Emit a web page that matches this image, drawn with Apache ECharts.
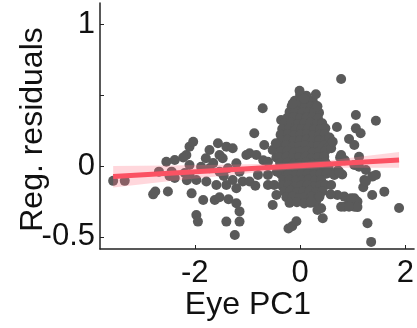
<!DOCTYPE html>
<html><head><meta charset="utf-8">
<script src="https://cdn.jsdelivr.net/npm/echarts@6/dist/echarts.min.js"></script>
<style>html,body{margin:0;padding:0;background:#fff}#c{width:417px;height:328px}</style>
</head><body><div id="c"></div>
<script>
// tick values / labels
const xTicks = [-2, 0, 2];
const yTicks = [-0.5, 0, 0.5, 1];
const yTickLabels = [-0.5, 0, 1];
const xName = 'Eye PC1';
const yName = 'Reg. residuals';

// scatter points [Eye PC1, residual]
const leftPoints = [
  [-3.55,-0.105],[-3.33,-0.105],[-2.79,-0.2],[-2.75,-0.18],[-2.51,-0.18],
  [-2.68,-0.04],[-2.54,0.03],[-2.38,0.042],[-2.44,-0.04],[-2.48,-0.07],[-2.38,-0.085],
  [-2.16,0.077],[-2.10,0.136],[-2.03,0.171],[-2.22,0.06],[-2.10,0.007],[-2.10,-0.063],[-2.19,-0.05],[-2.06,-0.193],[-2.15,-0.1],
  [-1.97,-0.345],[-1.94,-0.392],[-1.84,-0.24],[-1.62,-0.24],
  [-1.56,0.16],[-1.40,0.136],[-1.28,0.125],[-1.72,0.113],[-1.79,0.054],[-1.53,0.077],[-1.47,0.054],
  [-1.88,-0.005],[-1.72,-0.016],[-1.53,-0.04],[-1.37,-0.016],[-1.21,0.019],[-1.15,-0.04],[-1.02,0.077],[-1.09,-0.11],
  [-1.97,-0.099],[-1.78,-0.11],[-1.59,-0.134],[-1.40,-0.134],[-1.28,-0.099],[-1.21,-0.157],
  [-1.53,-0.22],[-1.36,-0.235],[-1.21,-0.263],[-1.15,-0.32],
  [-1.40,-0.392],[-1.15,-0.392],[-1.24,-0.486],[-1.65,0.02],[-1.45,-0.07],
  [-0.96,0.09],[-0.83,0.077],[-0.71,0.406],[-0.87,0.23],[-0.68,0.148],[-0.52,0.113],[-0.36,0.324],[-0.45,0.06],
  [-0.96,-0.11],[-0.80,-0.063],[-0.61,-0.063],[-0.61,-0.134],[-0.49,-0.134],[-0.45,-0.204],[-0.52,-0.275],
  [-0.85,-0.14],[-0.70,0.04],[-0.61,0.03],[-0.22,-0.44],[-0.15,-0.425],[-0.07,-0.39]
];
const centerPoints = [
  [0.00,0.50],[0.12,0.495],
  [-0.10,0.46],[0.02,0.465],[0.15,0.455],[0.24,0.46],
  [-0.16,0.42],[-0.04,0.425],[0.09,0.415],[0.21,0.42],[0.30,0.425],
  [-0.20,0.38],[-0.08,0.385],[0.04,0.375],[0.16,0.38],[0.27,0.385],[0.36,0.375],
  [-0.24,0.34],[-0.12,0.345],[0.00,0.335],[0.12,0.34],[0.24,0.345],[0.34,0.335],
  [-0.30,0.30],[-0.16,0.305],[-0.04,0.295],[0.08,0.30],[0.20,0.305],[0.32,0.295],[0.42,0.30],
  [-0.34,0.26],[-0.21,0.265],[-0.09,0.255],[0.03,0.26],[0.15,0.265],[0.27,0.255],[0.39,0.26],[0.48,0.265],
  [-0.37,0.22],[-0.23,0.225],[-0.11,0.215],[0.01,0.22],[0.13,0.225],[0.25,0.215],[0.37,0.22],[0.47,0.225],
  [-0.36,0.18],[-0.24,0.185],[-0.12,0.175],[0.00,0.18],[0.12,0.185],[0.24,0.175],[0.36,0.18],[0.48,0.185],
  [-0.40,0.14],[-0.26,0.145],[-0.14,0.135],[-0.02,0.14],[0.10,0.145],[0.22,0.135],[0.34,0.14],[0.46,0.145],[0.54,0.135],
  [-0.36,0.10],[-0.24,0.105],[-0.12,0.095],[0.00,0.10],[0.12,0.105],[0.24,0.095],[0.36,0.10],[0.48,0.105],
  [-0.40,0.06],[-0.26,0.065],[-0.14,0.055],[-0.02,0.06],[0.10,0.065],[0.22,0.055],[0.34,0.06],[0.46,0.065],
  [-0.38,0.02],[-0.24,0.025],[-0.12,0.015],[0.00,0.02],[0.12,0.025],[0.24,0.015],[0.36,0.02],[0.48,0.025],
  [-0.40,-0.02],[-0.26,-0.015],[-0.14,-0.025],[-0.02,-0.02],[0.10,-0.015],[0.22,-0.025],[0.34,-0.02],[0.46,-0.015],
  [-0.36,-0.06],[-0.22,-0.055],[-0.10,-0.065],[0.02,-0.06],[0.14,-0.055],[0.26,-0.065],[0.38,-0.06],[0.50,-0.055],
  [-0.32,-0.10],[-0.20,-0.095],[-0.08,-0.105],[0.04,-0.10],[0.16,-0.095],[0.28,-0.105],[0.40,-0.10],
  [-0.34,-0.14],[-0.22,-0.135],[-0.10,-0.145],[0.02,-0.14],[0.14,-0.135],[0.26,-0.145],[0.38,-0.14],[0.48,-0.135],
  [-0.30,-0.18],[-0.18,-0.175],[-0.06,-0.185],[0.06,-0.18],[0.18,-0.175],[0.30,-0.185],[0.42,-0.18],
  [-0.26,-0.22],[-0.14,-0.215],[-0.02,-0.225],[0.10,-0.22],[0.22,-0.215],[0.34,-0.225],
  [-0.20,-0.26],[-0.06,-0.255],[0.08,-0.265],[0.20,-0.26],[0.30,-0.255],
  [0.56,0.20],[0.54,0.00],[-0.46,0.16],[-0.44,-0.04]
];
const rightPoints = [
  [0.78,0.613],[-0.01,0.53],[0.30,0.505],[-0.14,0.44],[0.08,0.475],[0.33,0.42],[0.70,0.275],[1.06,0.359],
  [1.44,0.319],[1.06,0.265],[1.15,0.23],[0.93,0.19],[1.03,0.148],[1.12,0.065],[1.03,0.007],[1.25,-0.028],
  [1.44,-0.063],[1.22,-0.099],[1.37,-0.204],[1.60,-0.181],[0.84,-0.216],[0.93,-0.24],[1.03,-0.228],[1.09,-0.251],
  [0.84,-0.287],[1.03,-0.287],[1.88,-0.296],[1.28,-0.404],[1.35,-0.535],[0.71,-0.204],[0.78,-0.287],[0.43,-0.368],
  [0.40,-0.298],[0.21,-0.25],[0.76,0.06],[0.85,0.04],[0.72,-0.03],[0.80,-0.06],[1.20,-0.15],[0.59,0.125],
  [0.78,0.077],[0.55,-0.028],[0.65,-0.063],[0.59,-0.134],[1.12,-0.005],[1.37,-0.075],[1.25,-0.11],[0.37,-0.216],
  [0.33,-0.31],[0.58,-0.2],[0.97,-0.228],[1.09,-0.29],[0.93,-0.287],[0.74,-0.04],[0.62,0.17]
];

// regression fit and confidence band
const fitX = [-3.55, 1.88];
const fitY = [-0.075, 0.042];
const bandX = [-3.55, -2.5, -1.5, -0.5, 0.5, 1.88];
const bandLower = [-0.152, -0.107, -0.071, -0.034, -0.013, -0.012];
const bandUpper = [0.0, 0.003, 0.009, 0.016, 0.037, 0.098];

const FONT = 'Liberation Sans, Arial, Helvetica, sans-serif';
const chart = echarts.init(document.getElementById('c'), null, {renderer: 'canvas'});

const allPoints = leftPoints.concat(centerPoints, rightPoints);
const bandPoly = bandX.map((x, i) => [x, bandUpper[i]]).concat(
  bandX.map((x, i) => [x, bandLower[i]]).reverse());

chart.setOption({
  animation: false,
  grid: {left: 100, top: 3, width: 315, height: 246, containLabel: false},
  xAxis: {
    type: 'value', min: -3.8, max: 2.165,
    axisLine: {show: true, onZero: false, lineStyle: {color: '#222', width: 1.5}},
    axisTick: {show: true, inside: true, length: 4, customValues: xTicks, lineStyle: {color: '#222', width: 1}},
    axisLabel: {customValues: xTicks, margin: 9, fontSize: 31, color: '#111', fontFamily: FONT,
      formatter: v => String(v)},
    splitLine: {show: false}
  },
  yAxis: {
    type: 'value', min: -0.585, max: 1.148,
    axisLine: {show: true, onZero: false, lineStyle: {color: '#222', width: 1.5}},
    axisTick: {show: true, inside: true, length: 4, customValues: yTicks, lineStyle: {color: '#222', width: 1}},
    axisLabel: {customValues: yTickLabels, margin: 5, fontSize: 31, color: '#111', fontFamily: FONT,
      formatter: v => String(v)},
    splitLine: {show: false}
  },
  graphic: [
    {type: 'text', x: 248, y: 305, style: {text: xName, fontSize: 32, fontFamily: FONT, fill: '#111',
      textAlign: 'center', textVerticalAlign: 'middle'}},
    {type: 'text', x: 33.5, y: 129.5, rotation: Math.PI / 2, style: {text: yName, fontSize: 32, fontFamily: FONT,
      fill: '#111', textAlign: 'center', textVerticalAlign: 'middle'}}
  ],
  series: [
    {type: 'scatter', data: allPoints, symbolSize: 10, itemStyle: {color: '#5a5a5a', opacity: 1}, z: 2},
    {type: 'custom', z: 3, data: [0],
      renderItem: (params, api) => ({
        type: 'polygon',
        shape: {points: bandPoly.map(p => api.coord(p))},
        style: {fill: 'rgba(255,110,130,0.28)'}
      })},
    {type: 'line', data: fitX.map((x, i) => [x, fitY[i]]), symbol: 'none', z: 4,
      lineStyle: {color: '#fb5263', width: 5, cap: 'butt'}}
  ]
});
</script></body></html>
